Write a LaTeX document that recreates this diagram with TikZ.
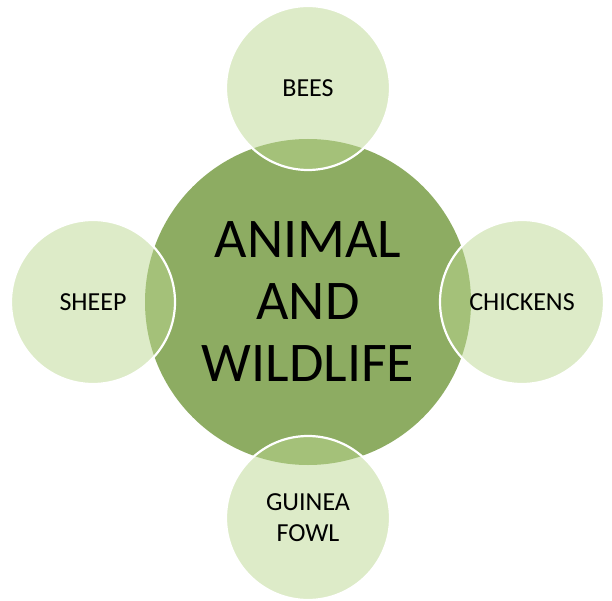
\documentclass[tikz,border=0pt]{standalone}
\usepackage{fontspec}
\setmainfont{Carlito}
\definecolor{centergreen}{RGB}{141,172,98}
\definecolor{petalgreen}{RGB}{187,215,145}
\begin{document}
\begin{tikzpicture}[x=1pt,y=-1pt,
  hub/.style={circle,fill=centergreen,minimum size=326pt,inner sep=0pt,align=center,
    font=\fontsize{56}{62}\selectfont},
  petal/.style={circle,fill=petalgreen,fill opacity=0.5,text opacity=1,draw=white,line width=2.2pt,
    minimum size=164pt,inner sep=0pt,align=center,font=\fontsize{26}{31}\selectfont}]
\useasboundingbox (0,0) rectangle (612,601);
\node[hub] (hub) at (308,302) {ANIMAL\\AND\\WILDLIFE};
\node[petal] (bees) at (308,88) {BEES};
\node[petal] (sheep) at (93,302) {SHEEP};
\node[petal] (chickens) at (522,302) {CHICKENS};
\node[petal] (fowl) at (308,518) {GUINEA\\FOWL};
\end{tikzpicture}
\end{document}
